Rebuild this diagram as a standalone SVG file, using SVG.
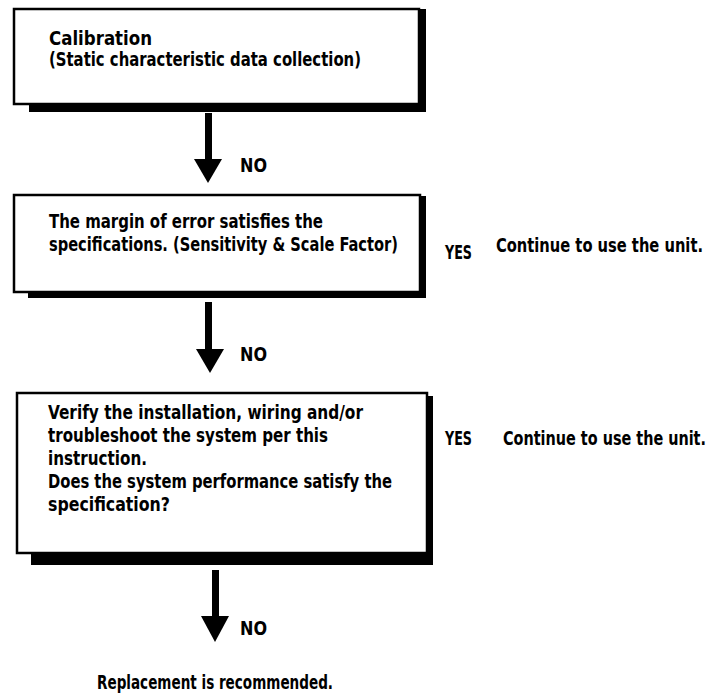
<svg xmlns="http://www.w3.org/2000/svg" width="715" height="694" viewBox="0 0 715 694">
<style>
.box{fill:#fff;stroke:#000;stroke-width:2.5}
.sh{fill:#000}
.t{font-family:"DejaVu Sans Condensed","Liberation Sans Narrow","Liberation Sans",Arial,sans-serif;font-stretch:condensed;font-weight:bold;font-size:19px;fill:#000}
</style>
<rect width="715" height="694" fill="#fff"/>
<g id="connectors">
  <g id="arrow1"><rect x="205" y="113" width="7" height="48"/><polygon points="194,159 222,159 208,183"/></g>
  <g id="arrow2"><rect x="205" y="302" width="7" height="49"/><polygon points="196,349 224,349 210,373"/></g>
  <g id="arrow3"><rect x="212" y="570" width="7" height="48"/><polygon points="201,616 229,616 215,642"/></g>
  <g transform="scale(0.75 1)">
    <text class="t" x="320" y="172" textLength="36" lengthAdjust="spacingAndGlyphs">NO</text>
    <text class="t" x="320" y="361" textLength="36" lengthAdjust="spacingAndGlyphs">NO</text>
    <text class="t" x="320" y="635" textLength="36" lengthAdjust="spacingAndGlyphs">NO</text>
  </g>
</g>
<g id="node1">
  <polygon class="sh" points="419,9 426,9 426,112 29,112 29,104 419,104"/>
  <rect class="box" x="14" y="9" width="405" height="95"/>
  <g transform="scale(0.75 1)">
    <text class="t" x="65.33" y="45" textLength="137.33" lengthAdjust="spacingAndGlyphs">Calibration</text>
    <text class="t" x="65.33" y="66" textLength="416" lengthAdjust="spacingAndGlyphs">(Static characteristic data collection)</text>
  </g>
</g>
<g id="node2">
  <polygon class="sh" points="420,196 426,196 426,298 28,298 28,292 420,292"/>
  <rect class="box" x="14" y="195" width="406" height="97"/>
  <g transform="scale(0.75 1)">
    <text class="t" x="65.33" y="228" textLength="365.33" lengthAdjust="spacingAndGlyphs">The margin of error satisfies the</text>
    <text class="t" x="65.33" y="251" textLength="465.33" lengthAdjust="spacingAndGlyphs">specifications. (Sensitivity &amp; Scale Factor)</text>
  </g>
</g>
<g id="yes1">
  <g transform="scale(0.75 1)">
    <text class="t" x="593.33" y="259" textLength="36" lengthAdjust="spacingAndGlyphs">YES</text>
    <text class="t" x="661.33" y="252" textLength="276" lengthAdjust="spacingAndGlyphs">Continue to use the unit.</text>
  </g>
</g>
<g id="node3">
  <polygon class="sh" points="427,396 433,396 433,565 31,565 31,553 427,553"/>
  <rect class="box" x="17" y="393" width="410" height="160"/>
  <g transform="scale(0.75 1)">
    <text class="t" x="64" y="419" textLength="420" lengthAdjust="spacingAndGlyphs">Verify the installation, wiring and/or</text>
    <text class="t" x="64" y="442" textLength="373.33" lengthAdjust="spacingAndGlyphs">troubleshoot the system per this</text>
    <text class="t" x="64" y="465" textLength="132" lengthAdjust="spacingAndGlyphs">instruction.</text>
    <text class="t" x="64" y="488" textLength="458.67" lengthAdjust="spacingAndGlyphs">Does the system performance satisfy the</text>
    <text class="t" x="64" y="511" textLength="162.67" lengthAdjust="spacingAndGlyphs">specification?</text>
  </g>
</g>
<g id="yes2">
  <g transform="scale(0.75 1)">
    <text class="t" x="593.33" y="445" textLength="36" lengthAdjust="spacingAndGlyphs">YES</text>
    <text class="t" x="670.67" y="445" textLength="270.67" lengthAdjust="spacingAndGlyphs">Continue to use the unit.</text>
  </g>
</g>
<g id="node4">
  <g transform="scale(0.75 1)">
    <text class="t" x="129.33" y="689" textLength="314.67" lengthAdjust="spacingAndGlyphs">Replacement is recommended.</text>
  </g>
</g>
</svg>
